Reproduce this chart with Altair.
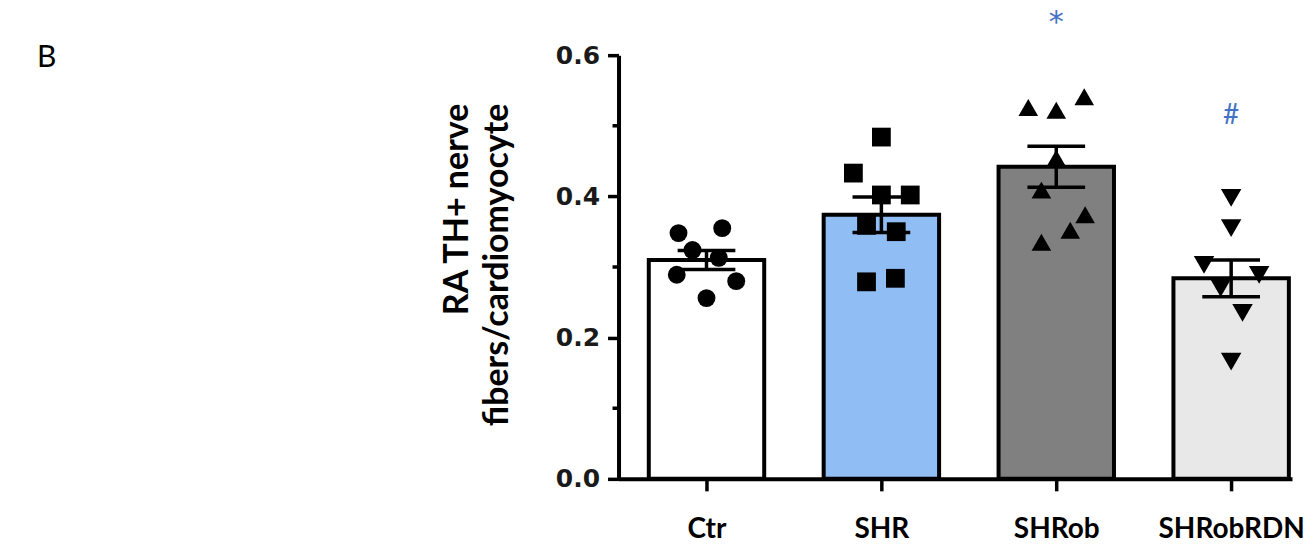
import json
import altair as alt
import pandas as pd

# ---- data ----
groups = ["Ctr", "SHR", "SHRob", "SHRobRDN"]
means = [0.310, 0.374, 0.442, 0.284]
sems = [0.0135, 0.025, 0.029, 0.026]
fills = ["#ffffff", "#90bdf4", "#808080", "#e8e8e8"]
shapes = ["circle", "square", "triangle-up", "triangle-down"]
sizes = [320, 420, 440, 440]

ctr_vals = [0.348, 0.355, 0.324, 0.289, 0.280, 0.256, 0.313]
ctr_jit = [-0.16, 0.09, -0.08, -0.17, 0.17, 0.0, 0.07]
shr_vals = [0.484, 0.433, 0.402, 0.402, 0.359, 0.350, 0.279, 0.284]
shr_jit = [0.0, -0.16, 0.0, 0.165, -0.085, 0.085, -0.085, 0.08]
shrob_vals = [0.526, 0.522, 0.541, 0.454, 0.409, 0.374, 0.352, 0.335]
shrob_jit = [-0.16, 0.0, 0.16, 0.0, -0.085, 0.165, 0.08, -0.085]
rdn_vals = [0.398, 0.355, 0.303, 0.289, 0.270, 0.235, 0.166]
rdn_jit = [0.0, 0.0, -0.155, 0.16, -0.06, 0.065, 0.0]

star_group = "SHRob"
star_y = 0.645
hash_group = "SHRobRDN"
hash_y = 0.514

y_ticks = [0.0, 0.2, 0.4, 0.6]
y_minor = [0.1, 0.3, 0.5]
y_title = ["RA TH+ nerve", "fibers/cardiomyocyte"]
panel_label = "B"

# ---- tables ----
half_bar = 0.33
half_cap = 0.165
bars = pd.DataFrame({
    "group": groups,
    "idx": list(range(len(groups))),
    "mean": means,
    "sem": sems,
    "fill": fills,
})
bars["x1"] = bars["idx"] - half_bar
bars["x2"] = bars["idx"] + half_bar
bars["c1"] = bars["idx"] - half_cap
bars["c2"] = bars["idx"] + half_cap
bars["lo"] = bars["mean"] - bars["sem"]
bars["hi"] = bars["mean"] + bars["sem"]

rows = []
for gi, (vals, jit) in enumerate([(ctr_vals, ctr_jit), (shr_vals, shr_jit),
                                  (shrob_vals, shrob_jit), (rdn_vals, rdn_jit)]):
    for v, j in zip(vals, jit):
        rows.append({"group": groups[gi], "xpos": gi + j, "value": v})
pts = pd.DataFrame(rows)

star = pd.DataFrame({"idx": [groups.index(star_group)], "y": [star_y], "t": ["*"]})
hsh = pd.DataFrame({"idx": [groups.index(hash_group)], "y": [hash_y], "t": ["#"]})
minor = pd.DataFrame({"v": y_minor})
lab = pd.DataFrame({"t": [panel_label]})

xscale = alt.Scale(domain=[-0.503, 3.348], nice=False, zero=False)
yscale = alt.Scale(domain=[0, 0.6], nice=False, zero=True)

label_expr = json.dumps(groups) + "[datum.value]"

x_axis = alt.Axis(values=list(range(len(groups))), labelExpr=label_expr,
                  title=None, grid=False, tickSize=12, tickWidth=3.5,
                  tickColor="black", domainColor="black", domainWidth=4,
                  labelFont="Lato", labelFontWeight="bold", labelFontSize=28,
                  labelColor="black", labelPadding=25)
y_axis = alt.Axis(values=y_ticks, format=".1f", title=y_title, grid=False,
                  tickSize=11, tickWidth=3.5, tickColor="black",
                  domainColor="black", domainWidth=4,
                  labelFont="DejaVu Sans", labelFontWeight="bold",
                  labelFontSize=25, labelColor="#1a1a1a", labelPadding=8,
                  titleFont="Lato", titleFontWeight="bold", titleFontSize=34,
                  titleLineHeight=40, titleColor="black", titleAngle=-90,
                  titleAlign="right", titleBaseline="middle",
                  titleX=-161, titleY=48)

base = alt.Chart(bars)

bar_layer = base.mark_rect(stroke="black", strokeWidth=4).encode(
    x=alt.X("x1:Q", scale=xscale, axis=x_axis),
    x2="x2:Q",
    y=alt.Y("mean:Q", scale=yscale, axis=y_axis),
    y2=alt.datum(0),
    fill=alt.Fill("fill:N", scale=None),
)

point_layer = alt.Chart(pts).mark_point(filled=True, opacity=1, color="black").encode(
    x=alt.X("xpos:Q", scale=xscale),
    y=alt.Y("value:Q", scale=yscale),
    shape=alt.Shape("group:N", scale=alt.Scale(domain=groups, range=shapes), legend=None),
    size=alt.Size("group:N", scale=alt.Scale(domain=groups, range=sizes), legend=None),
)

err_v = base.mark_rule(color="black", strokeWidth=3.5).encode(
    x=alt.X("idx:Q", scale=xscale), y=alt.Y("lo:Q", scale=yscale), y2="hi:Q")
cap_hi = base.mark_rule(color="black", strokeWidth=3.5).encode(
    x=alt.X("c1:Q", scale=xscale), x2="c2:Q", y=alt.Y("hi:Q", scale=yscale))
cap_lo = base.mark_rule(color="black", strokeWidth=3.5).encode(
    x=alt.X("c1:Q", scale=xscale), x2="c2:Q", y=alt.Y("lo:Q", scale=yscale))

minor_layer = alt.Chart(minor).mark_rule(color="black", strokeWidth=3.5).encode(
    y=alt.Y("v:Q", scale=yscale), x=alt.value(-6), x2=alt.value(0))

star_layer = alt.Chart(star).mark_text(font="DejaVu Sans", fontSize=30, color="#4472c4",
                                       baseline="middle", align="center").encode(
    x=alt.X("idx:Q", scale=xscale), y=alt.Y("y:Q", scale=yscale), text="t:N")
hash_layer = alt.Chart(hsh).mark_text(font="Lato", fontSize=28, color="#4472c4",
                                      baseline="middle", align="center").encode(
    x=alt.X("idx:Q", scale=xscale), y=alt.Y("y:Q", scale=yscale), text="t:N")

b_layer = alt.Chart(lab).mark_text(font="Lato", fontSize=30, color="black",
                                   align="left", baseline="middle").encode(
    x=alt.value(-582), y=alt.value(3), text="t:N")

chart = alt.layer(bar_layer, point_layer, err_v, cap_hi, cap_lo, minor_layer,
                  star_layer, hash_layer, b_layer).properties(
    width=674, height=424,
    padding={"left": 611, "top": 47, "right": 15, "bottom": 70},
    autosize=alt.AutoSizeParams(type="none"),
    background="white",
).configure_view(stroke=None)

chart.save("out.html", embed_options={"renderer": "svg", "actions": False})
